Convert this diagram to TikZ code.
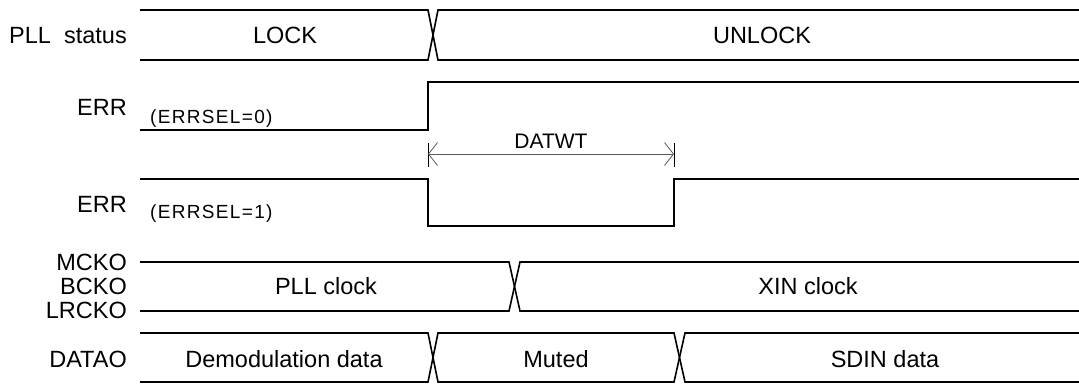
\documentclass[tikz,border=0pt]{standalone}
\usepackage{fontspec}
\setmainfont{Liberation Sans}
\newfontfamily\spacedfont[LetterSpace=7]{Liberation Sans}
\usetikzlibrary{arrows.meta}
\begin{document}
\begin{tikzpicture}[x=1pt,y=-1pt,
  wave/.style={line width=1.6pt, line join=miter},
  lbl/.style={font=\fontsize{23.5}{24}\selectfont, inner sep=0pt, anchor=base},
  sub/.style={font=\fontsize{19}{19}\spacedfont, inner sep=0pt, anchor=base west},
  signame/.style={lbl, anchor=base east},
  dim/.style={line width=0.8pt, draw=black!65, {Straight Barb[length=9pt,width=23pt]}-{Straight Barb[length=9pt,width=23pt]}}]
\useasboundingbox (0,0) rectangle (1079,383);
% ---- PLL status ----
\draw[wave] (140,10) -- (428,10) -- (438,60) -- (1079,60);
\draw[wave] (140,60) -- (428,60) -- (438,10) -- (1079,10);
\node[signame] (lpll) at (127,43) {PLL\ \ status};
\node[lbl] (lock) at (285,43) {LOCK};
\node[lbl] (unlock) at (762,43) {UNLOCK};
% ---- ERR (ERRSEL=0) ----
\draw[wave] (140,130) -- (428,130) -- (428,82) -- (1079,82);
\node[signame] (lerr0) at (127,115) {ERR};
\node[sub] (sel0) at (150,123) {(ERRSEL=0)};
% ---- DATWT ----
\coordinate (d1) at (428,154);
\coordinate (d2) at (674,154);
\draw[line width=0.8pt] (428,143) -- (428,167);
\draw[line width=0.8pt] (674,143) -- (674,167);
\draw[dim] (d1) -- (d2);
\node[lbl, font=\fontsize{21}{21}\selectfont] (datwt) at (551,148) {DATWT};
% ---- ERR (ERRSEL=1) ----
\draw[wave] (140,179) -- (428,179) -- (428,226) -- (674,226) -- (674,179) -- (1079,179);
\node[signame] (lerr1) at (127,212) {ERR};
\node[sub] (sel1) at (150,218) {(ERRSEL=1)};
% ---- clocks ----
\draw[wave] (140,262) -- (509,262) -- (520,311) -- (1079,311);
\draw[wave] (140,311) -- (509,311) -- (520,262) -- (1079,262);
\node[signame] (lmcko) at (127,270) {MCKO};
\node[signame] (lbcko) at (127,294) {BCKO};
\node[signame] (llrcko) at (127,318) {LRCKO};
\node[lbl] (pllclk) at (326,294) {PLL clock};
\node[lbl] (xinclk) at (808,294) {XIN clock};
% ---- DATAO ----
\draw[wave] (140,333) -- (428,333) -- (438,382) -- (674,382) -- (685,333) -- (1079,333);
\draw[wave] (140,382) -- (428,382) -- (438,333) -- (674,333) -- (685,382) -- (1079,382);
\node[signame] (ldata) at (127,367) {DATAO};
\node[lbl] (demod) at (284,367) {Demodulation data};
\node[lbl] (muted) at (556,367) {Muted};
\node[lbl] (sdin) at (885,367) {SDIN data};
\end{tikzpicture}
\end{document}
